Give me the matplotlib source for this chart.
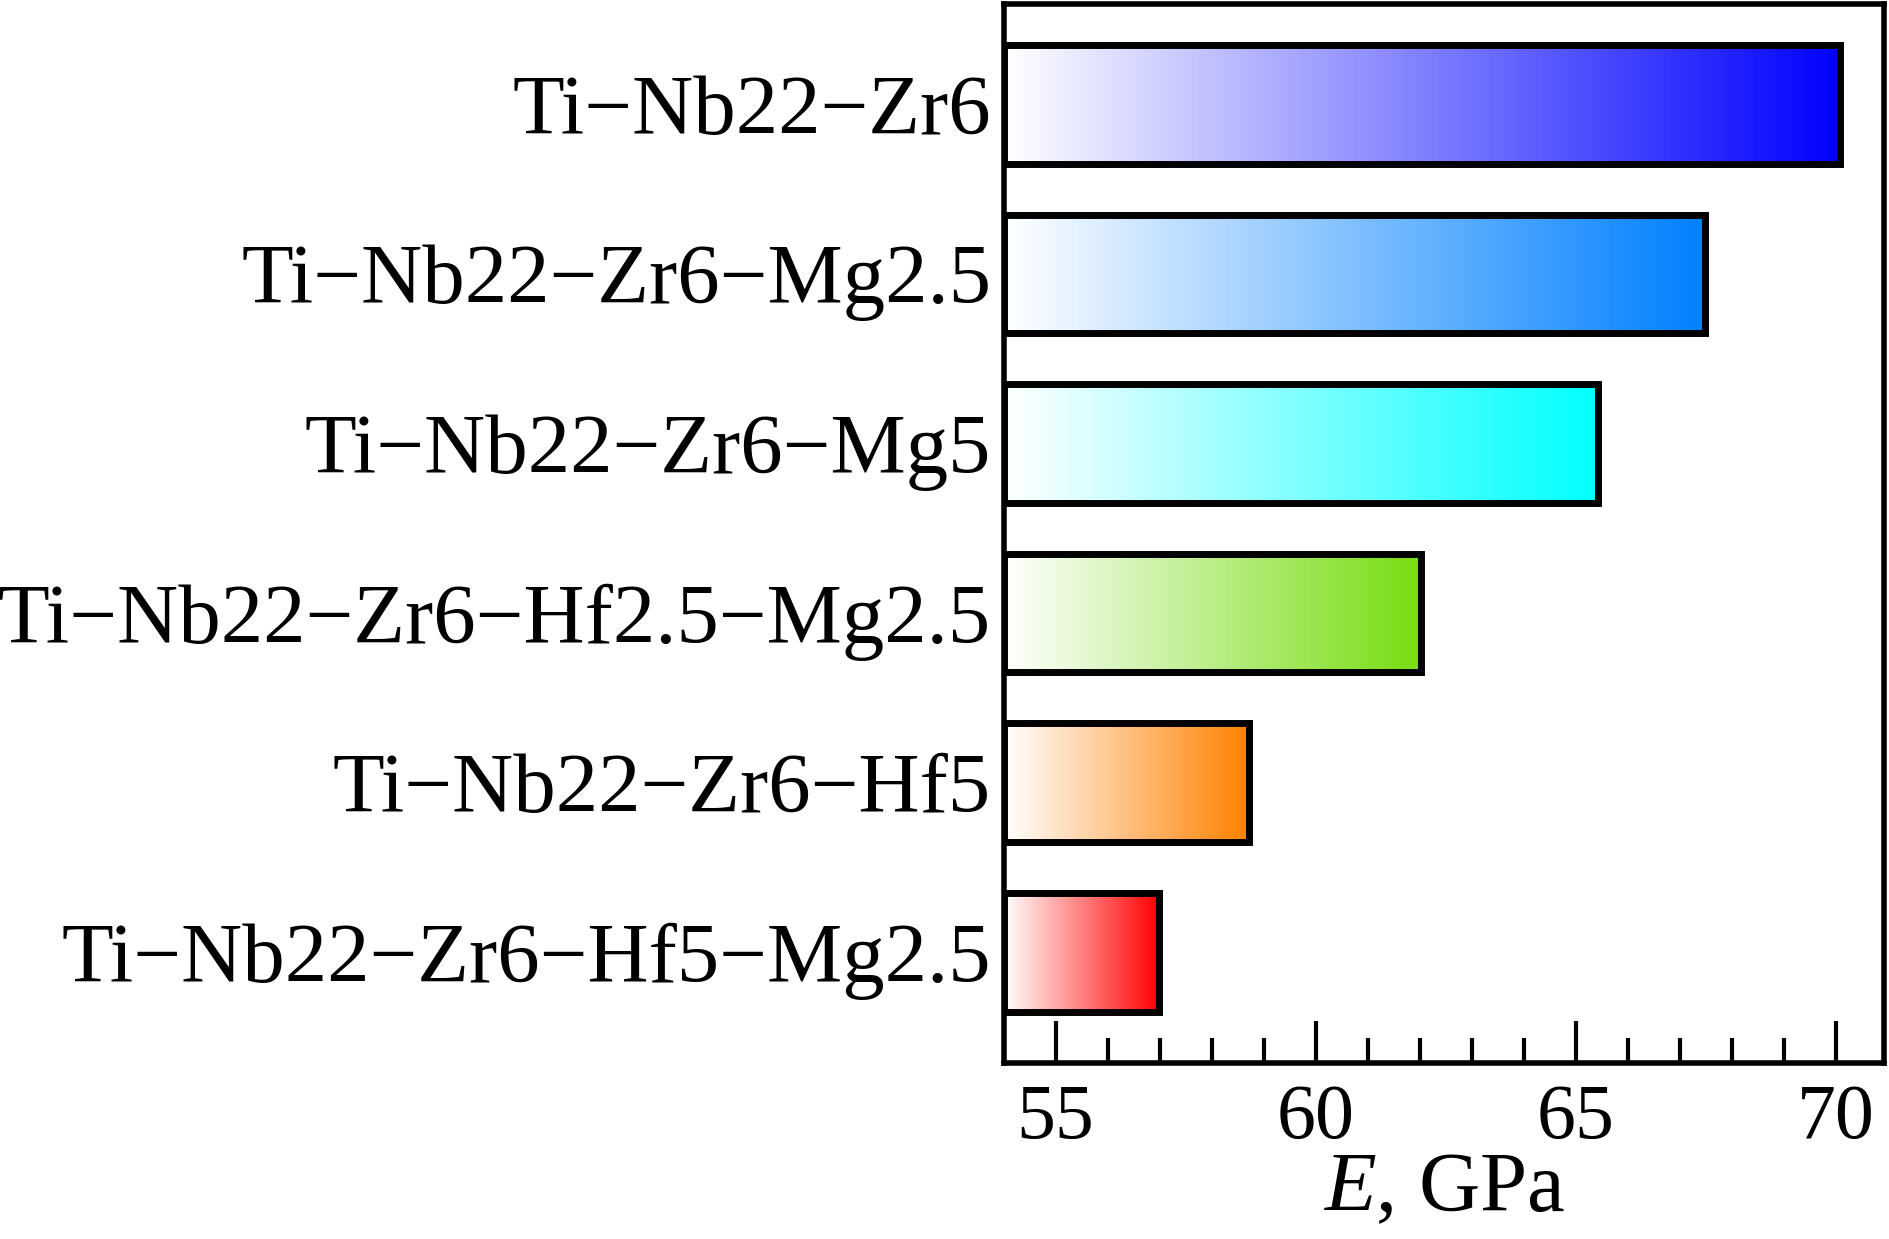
import matplotlib.pyplot as plt
import numpy as np
from matplotlib.colors import LinearSegmentedColormap

plt.rcParams['font.family'] = 'Liberation Serif'
plt.rcParams['mathtext.fontset'] = 'custom'
plt.rcParams['mathtext.it'] = 'Liberation Serif:italic'
plt.rcParams['mathtext.rm'] = 'Liberation Serif'

alloys = ['Ti\u2212Nb22\u2212Zr6\u2212Hf5\u2212Mg2.5',
          'Ti\u2212Nb22\u2212Zr6\u2212Hf5',
          'Ti\u2212Nb22\u2212Zr6\u2212Hf2.5\u2212Mg2.5',
          'Ti\u2212Nb22\u2212Zr6\u2212Mg5',
          'Ti\u2212Nb22\u2212Zr6\u2212Mg2.5',
          'Ti\u2212Nb22\u2212Zr6']
modulus = [56.99, 58.71, 62.02, 65.42, 67.48, 70.07]
colors = ['#ff0000', '#ff8000', '#77dd11', '#00ffff', '#0080ff', '#0000ff']

x0, x1 = 54.0, 70.93
FONT = 'Liberation Serif'

fig = plt.figure(figsize=(18.9, 12.39), dpi=100)
ax = fig.add_axes([0.531, 0.142, 0.466, 0.855])

y = np.arange(len(alloys))
bars = ax.barh(y, np.array(modulus) - x0, left=x0, height=0.7,
               facecolor='none', edgecolor='black', linewidth=5, zorder=3)

grad = np.linspace(0, 1, 256).reshape(1, -1)
for b, c in zip(bars, colors):
    cmap = LinearSegmentedColormap.from_list('g', ['white', c])
    bx, by = b.get_x(), b.get_y()
    im = ax.imshow(grad, cmap=cmap, aspect='auto', zorder=2,
                   extent=[bx, bx + b.get_width(), by, by + b.get_height()])
    im.set_clip_path(b)

ax.set_xlim(x0, x1)
ax.set_ylim(-0.654, 5.594)
ax.set_yticks(y)
ax.set_yticklabels(alloys, fontsize=61, family=FONT)
ax.tick_params(axis='y', length=0, pad=9)

ax.set_xticks([55, 60, 65, 70])
ax.set_xticklabels(['55', '60', '65', '70'], fontsize=56, family=FONT)
ax.set_xticks(np.arange(55, 71, 1), minor=True)
ax.tick_params(axis='x', which='major', direction='in', length=30, width=3, pad=15)
ax.tick_params(axis='x', which='minor', direction='in', length=18, width=3)
ax.tick_params(top=False, right=False)
for s in ax.spines.values():
    s.set_linewidth(4)

ax.set_xlabel('$E$, GPa', fontsize=61, labelpad=-2, family=FONT)

fig.savefig('out.png', dpi=100)
